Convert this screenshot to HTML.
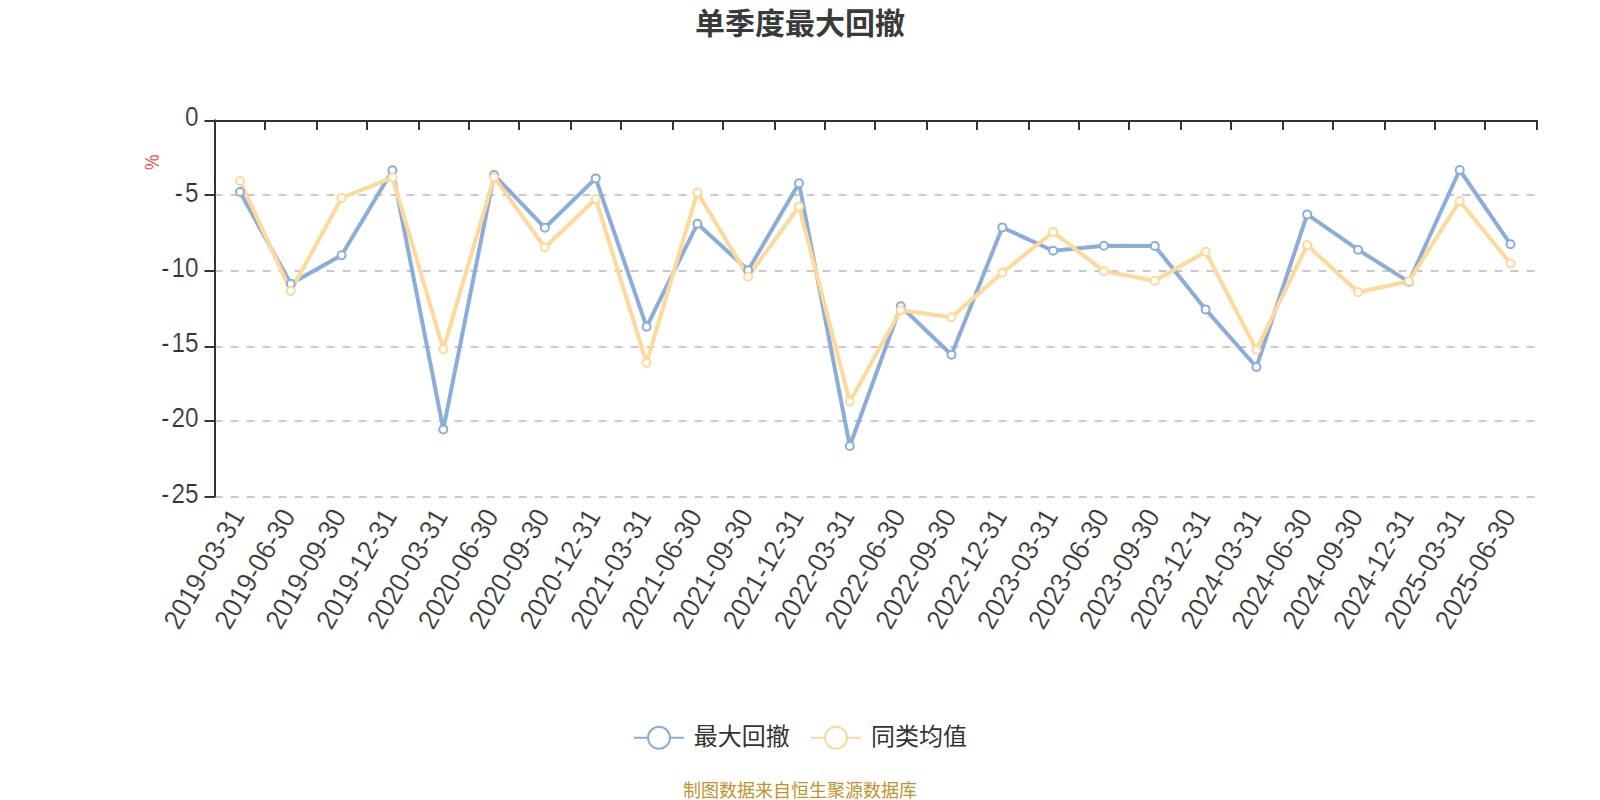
<!DOCTYPE html>
<html lang="zh-CN"><head><meta charset="utf-8"><title>单季度最大回撤</title>
<style>
html,body{margin:0;padding:0;background:#fff;}
body{width:1600px;height:800px;overflow:hidden;position:relative;font-family:"Liberation Sans","Noto Sans CJK SC",sans-serif;}
svg{position:absolute;left:0;top:0;display:block}
svg text{font-family:"Liberation Sans","Noto Sans CJK SC",sans-serif;}
.yl{font-size:26px;fill:#333;stroke:#fff;stroke-width:0.22px;text-anchor:end;letter-spacing:0px}
.xl{font-size:26px;fill:#333;stroke:#fff;stroke-width:0.22px;text-anchor:end;letter-spacing:0px}
.title{font-size:30px;font-weight:bold;fill:#3a3a3a;text-anchor:middle}
.lg{font-size:24px;fill:#333}
.src{font-size:18px;fill:#c2922c;text-anchor:middle}
.unit{font-size:18px;fill:#ff1a1a;stroke:#fff;stroke-width:0.2px;text-anchor:middle}
</style></head><body>
<svg width="1600" height="800" viewBox="0 0 1600 800">
<rect width="1600" height="800" fill="#fff"/>
<text class="title" x="800" y="33.5">单季度最大回撤</text>

<g stroke="#c9c9c9" stroke-width="2" stroke-dasharray="8 8" fill="none">
<path d="M214.5 195H1537"/>
<path d="M214.5 271H1537"/>
<path d="M214.5 347H1537"/>
<path d="M214.5 421H1537"/>
<path d="M214.5 497H1537"/>
</g>
<g stroke="#333" stroke-width="2" fill="none">
<path d="M215 119.5V498"/>
<path d="M215 121H1538"/>
<path d="M204.5 121H215"/>
<path d="M204.5 195H215"/>
<path d="M204.5 271H215"/>
<path d="M204.5 347H215"/>
<path d="M204.5 421H215"/>
<path d="M204.5 497H215"/>
<path d="M265 121V130"/>
<path d="M317 121V130"/>
<path d="M367 121V130"/>
<path d="M419 121V130"/>
<path d="M469 121V130"/>
<path d="M519 121V130"/>
<path d="M571 121V130"/>
<path d="M621 121V130"/>
<path d="M673 121V130"/>
<path d="M723 121V130"/>
<path d="M775 121V130"/>
<path d="M825 121V130"/>
<path d="M875 121V130"/>
<path d="M927 121V130"/>
<path d="M977 121V130"/>
<path d="M1029 121V130"/>
<path d="M1079 121V130"/>
<path d="M1129 121V130"/>
<path d="M1181 121V130"/>
<path d="M1231 121V130"/>
<path d="M1283 121V130"/>
<path d="M1333 121V130"/>
<path d="M1385 121V130"/>
<path d="M1435 121V130"/>
<path d="M1485 121V130"/>
<path d="M1537 121V130"/>
</g>
<rect x="215" y="497" width="1" height="1" fill="#86b4ee"/>
<text class="yl" transform="translate(198.5,126.4) scale(0.935,1.07)">0</text>
<text class="yl" transform="translate(198.5,202.2) scale(0.935,1.07)"><tspan letter-spacing="2.4">-</tspan>5</text>
<text class="yl" transform="translate(198.5,277.1) scale(0.935,1.07)"><tspan letter-spacing="2.4">-</tspan>10</text>
<text class="yl" transform="translate(198.5,352.1) scale(0.935,1.07)"><tspan letter-spacing="2.4">-</tspan>15</text>
<text class="yl" transform="translate(198.5,427.1) scale(0.935,1.07)"><tspan letter-spacing="2.4">-</tspan>20</text>
<text class="yl" transform="translate(198.5,503.1) scale(0.935,1.07)"><tspan letter-spacing="2.4">-</tspan>25</text>
<text class="unit" transform="translate(158.8,162.2) rotate(-90) scale(0.97,1.118)">%</text>
<text class="xl" transform="translate(245.4,516) rotate(-60) scale(1.0,1.07)" y="0">2019-03-31</text>
<text class="xl" transform="translate(296.2,516) rotate(-60) scale(1.0,1.07)" y="0">2019-06-30</text>
<text class="xl" transform="translate(347.1,516) rotate(-60) scale(1.0,1.07)" y="0">2019-09-30</text>
<text class="xl" transform="translate(398.0,516) rotate(-60) scale(1.0,1.07)" y="0">2019-12-31</text>
<text class="xl" transform="translate(448.8,516) rotate(-60) scale(1.0,1.07)" y="0">2020-03-31</text>
<text class="xl" transform="translate(499.6,516) rotate(-60) scale(1.0,1.07)" y="0">2020-06-30</text>
<text class="xl" transform="translate(550.5,516) rotate(-60) scale(1.0,1.07)" y="0">2020-09-30</text>
<text class="xl" transform="translate(601.4,516) rotate(-60) scale(1.0,1.07)" y="0">2020-12-31</text>
<text class="xl" transform="translate(652.2,516) rotate(-60) scale(1.0,1.07)" y="0">2021-03-31</text>
<text class="xl" transform="translate(703.1,516) rotate(-60) scale(1.0,1.07)" y="0">2021-06-30</text>
<text class="xl" transform="translate(753.9,516) rotate(-60) scale(1.0,1.07)" y="0">2021-09-30</text>
<text class="xl" transform="translate(804.8,516) rotate(-60) scale(1.0,1.07)" y="0">2021-12-31</text>
<text class="xl" transform="translate(855.6,516) rotate(-60) scale(1.0,1.07)" y="0">2022-03-31</text>
<text class="xl" transform="translate(906.5,516) rotate(-60) scale(1.0,1.07)" y="0">2022-06-30</text>
<text class="xl" transform="translate(957.3,516) rotate(-60) scale(1.0,1.07)" y="0">2022-09-30</text>
<text class="xl" transform="translate(1008.1,516) rotate(-60) scale(1.0,1.07)" y="0">2022-12-31</text>
<text class="xl" transform="translate(1059.0,516) rotate(-60) scale(1.0,1.07)" y="0">2023-03-31</text>
<text class="xl" transform="translate(1109.9,516) rotate(-60) scale(1.0,1.07)" y="0">2023-06-30</text>
<text class="xl" transform="translate(1160.7,516) rotate(-60) scale(1.0,1.07)" y="0">2023-09-30</text>
<text class="xl" transform="translate(1211.5,516) rotate(-60) scale(1.0,1.07)" y="0">2023-12-31</text>
<text class="xl" transform="translate(1262.4,516) rotate(-60) scale(1.0,1.07)" y="0">2024-03-31</text>
<text class="xl" transform="translate(1313.3,516) rotate(-60) scale(1.0,1.07)" y="0">2024-06-30</text>
<text class="xl" transform="translate(1364.1,516) rotate(-60) scale(1.0,1.07)" y="0">2024-09-30</text>
<text class="xl" transform="translate(1415.0,516) rotate(-60) scale(1.0,1.07)" y="0">2024-12-31</text>
<text class="xl" transform="translate(1465.8,516) rotate(-60) scale(1.0,1.07)" y="0">2025-03-31</text>
<text class="xl" transform="translate(1516.7,516) rotate(-60) scale(1.0,1.07)" y="0">2025-06-30</text>
<path d="M240.0 192.0L290.8 283.8L341.6 255.2L392.5 170.3L443.3 429.4L494.1 175.0L544.9 227.8L595.7 178.4L646.6 326.8L697.4 223.8L748.2 270.2L799.0 183.2L849.8 446.0L900.7 306.3L951.5 354.8L1002.3 227.4L1053.1 250.8L1103.9 245.7L1154.8 246.0L1205.6 309.4L1256.4 367.0L1307.2 214.4L1358.0 249.7L1408.9 281.9L1459.7 170.0L1510.5 244.3" fill="none" stroke="#8cadda" stroke-width="4" stroke-linejoin="bevel"/>
<path d="M240.0 180.9L290.8 291.0L341.6 198.0L392.5 177.6L443.3 349.2L494.1 177.2L544.9 247.5L595.7 199.0L646.6 362.8L697.4 192.4L748.2 276.7L799.0 206.4L849.8 401.6L900.7 310.3L951.5 317.3L1002.3 272.8L1053.1 232.0L1103.9 271.2L1154.8 280.8L1205.6 251.8L1256.4 349.8L1307.2 245.0L1358.0 292.2L1408.9 281.2L1459.7 201.0L1510.5 263.5" fill="none" stroke="#fed99a" stroke-width="4" stroke-linejoin="bevel"/>
<g fill="#fff" stroke="#8cadda" stroke-width="2">
<circle cx="240.0" cy="192.0" r="4"/>
<circle cx="290.8" cy="283.8" r="4"/>
<circle cx="341.6" cy="255.2" r="4"/>
<circle cx="392.5" cy="170.3" r="4"/>
<circle cx="443.3" cy="429.4" r="4"/>
<circle cx="494.1" cy="175.0" r="4"/>
<circle cx="544.9" cy="227.8" r="4"/>
<circle cx="595.7" cy="178.4" r="4"/>
<circle cx="646.6" cy="326.8" r="4"/>
<circle cx="697.4" cy="223.8" r="4"/>
<circle cx="748.2" cy="270.2" r="4"/>
<circle cx="799.0" cy="183.2" r="4"/>
<circle cx="849.8" cy="446.0" r="4"/>
<circle cx="900.7" cy="306.3" r="4"/>
<circle cx="951.5" cy="354.8" r="4"/>
<circle cx="1002.3" cy="227.4" r="4"/>
<circle cx="1053.1" cy="250.8" r="4"/>
<circle cx="1103.9" cy="245.7" r="4"/>
<circle cx="1154.8" cy="246.0" r="4"/>
<circle cx="1205.6" cy="309.4" r="4"/>
<circle cx="1256.4" cy="367.0" r="4"/>
<circle cx="1307.2" cy="214.4" r="4"/>
<circle cx="1358.0" cy="249.7" r="4"/>
<circle cx="1408.9" cy="281.9" r="4"/>
<circle cx="1459.7" cy="170.0" r="4"/>
<circle cx="1510.5" cy="244.3" r="4"/>
</g>
<g fill="#fff" stroke="#fed99a" stroke-width="2">
<circle cx="240.0" cy="180.9" r="4"/>
<circle cx="290.8" cy="291.0" r="4"/>
<circle cx="341.6" cy="198.0" r="4"/>
<circle cx="392.5" cy="177.6" r="4"/>
<circle cx="443.3" cy="349.2" r="4"/>
<circle cx="494.1" cy="177.2" r="4"/>
<circle cx="544.9" cy="247.5" r="4"/>
<circle cx="595.7" cy="199.0" r="4"/>
<circle cx="646.6" cy="362.8" r="4"/>
<circle cx="697.4" cy="192.4" r="4"/>
<circle cx="748.2" cy="276.7" r="4"/>
<circle cx="799.0" cy="206.4" r="4"/>
<circle cx="849.8" cy="401.6" r="4"/>
<circle cx="900.7" cy="310.3" r="4"/>
<circle cx="951.5" cy="317.3" r="4"/>
<circle cx="1002.3" cy="272.8" r="4"/>
<circle cx="1053.1" cy="232.0" r="4"/>
<circle cx="1103.9" cy="271.2" r="4"/>
<circle cx="1154.8" cy="280.8" r="4"/>
<circle cx="1205.6" cy="251.8" r="4"/>
<circle cx="1256.4" cy="349.8" r="4"/>
<circle cx="1307.2" cy="245.0" r="4"/>
<circle cx="1358.0" cy="292.2" r="4"/>
<circle cx="1408.9" cy="281.2" r="4"/>
<circle cx="1459.7" cy="201.0" r="4"/>
<circle cx="1510.5" cy="263.5" r="4"/>
</g>
<g fill="#fff" stroke-width="2"><path d="M634 737.8H684" stroke="#8cadda"/><circle cx="659" cy="737.8" r="11" stroke="#8cadda"/>
<path d="M811 737.8H861" stroke="#fed99a"/><circle cx="836" cy="737.8" r="11" stroke="#fed99a"/></g>
<text class="lg" x="693.8" y="744.6">最大回撤</text>
<text class="lg" x="871" y="744.6">同类均值</text>
<text class="src" x="800" y="796.6">制图数据来自恒生聚源数据库</text>
</svg></body></html>
